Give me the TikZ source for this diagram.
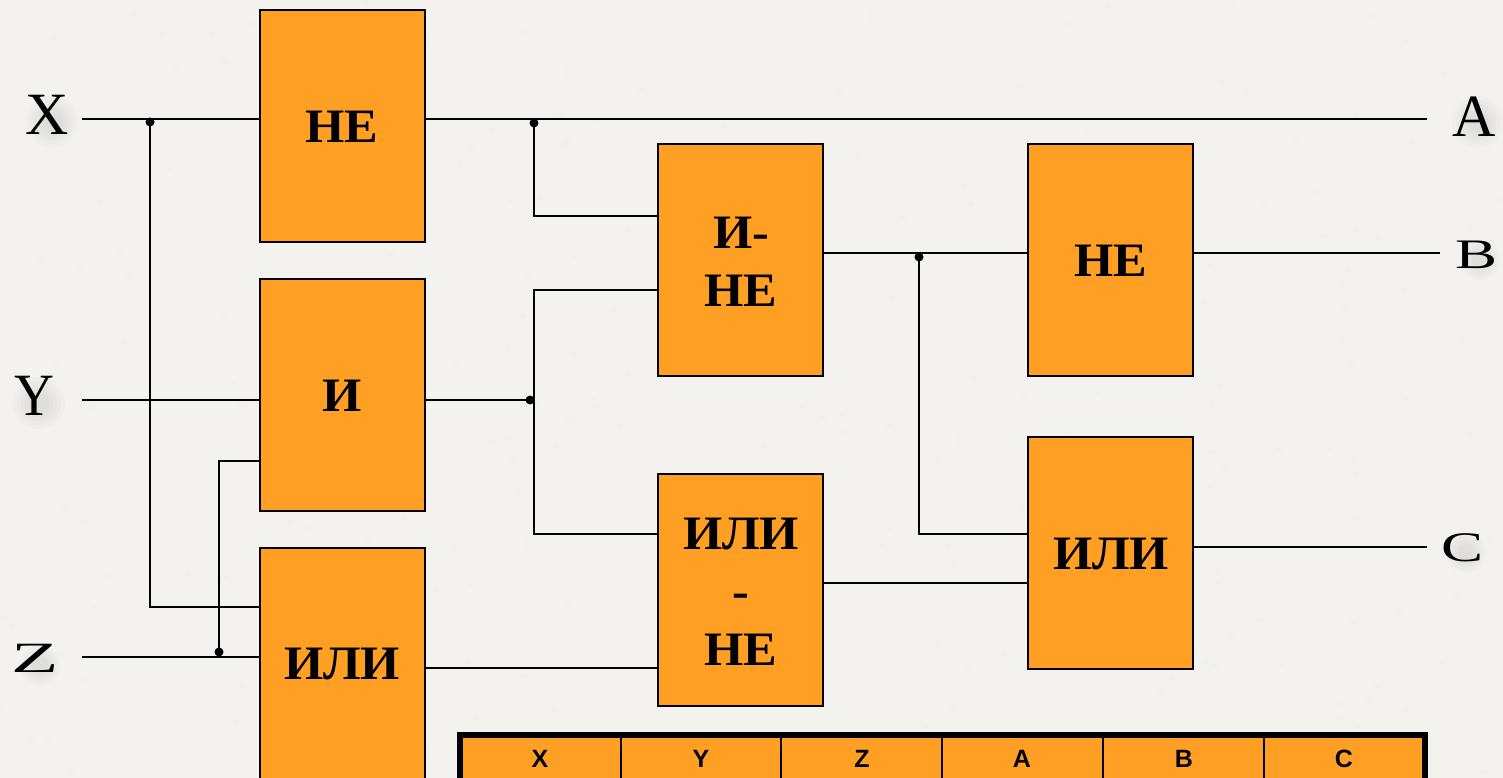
\documentclass[tikz,border=0pt]{standalone}
\usepackage{fontspec}
\setmainfont{Liberation Serif}
\newfontfamily\tabfont{Liberation Sans}
\usetikzlibrary{calc}
\definecolor{pagebg}{HTML}{F3F2EE}
\definecolor{gateor}{HTML}{FF9F24}
\tikzset{
  x=1pt,y=-1pt,
  gate/.style={draw=black,fill=gateor,line width=1.9pt,minimum width=164.8pt,minimum height=232pt,inner sep=0pt,anchor=north west},
  gatetext/.style={font=\bfseries\fontsize{48}{58}\selectfont,align=center,inner sep=0pt,xscale=1.05},
  wire/.style={draw=black,line width=1.8pt,line join=miter},
  joint/.style={circle,fill=black,inner sep=0pt,minimum size=9pt},
  iolabel/.style={font=\fontsize{60}{60}\selectfont,inner sep=0pt},
  cellhead/.style={font=\tabfont\bfseries\fontsize{25}{25}\selectfont,inner sep=0pt},
  blob/.style={fill=black,fill opacity=0.014,draw=none}
}
\newcommand{\softblob}[3]{%
  \foreach \r in {1,0.85,0.7,0.55,0.4}{\path[blob] (#1,#2) ellipse [x radius=#3*\r,y radius=#3*\r];}}
\begin{document}
\begin{tikzpicture}
\useasboundingbox (0,0) rectangle (1503,778);
\fill[pagebg] (0,0) rectangle (1503,778);
\pgfmathsetseed{11}
\foreach \i in {1,...,250}{
  \pgfmathsetmacro{\px}{random(0,1503)}
  \pgfmathsetmacro{\py}{random(0,778)}
  \fill[black,opacity=0.008] (\px,\py) circle (3pt);
}
\softblob{52}{122}{26}\softblob{1478}{122}{26}\softblob{1480}{260}{20}
\softblob{39}{403}{26}\softblob{1466}{553}{20}\softblob{40}{665}{20}

% gates
\node[gate] (ne1)   at (259.4,8.9)    {};
\node[gate] (and1)  at (259.4,277.9)  {};
\node[gate] (or1)   at (259.4,546.9)  {};
\node[gate] (nand)  at (657.4,143)  {};
\node[gate] (nor)   at (657.4,473)  {};
\node[gate] (ne2)   at (1027.4,143) {};
\node[gate] (or2)   at (1027.4,436) {};

\node[gatetext] (tne1)  at (342,127)  {НЕ};
\node[gatetext] (tand1) at (342,396)  {И};
\node[gatetext] (tor1)  at (342,664)  {ИЛИ};
\node[gatetext] (tnand) at (741,262)  {И-\\НЕ};
\node[gatetext] (tnor)  at (741,592)  {ИЛИ\\-\\НЕ};
\node[gatetext] (tne2)  at (1111,261) {НЕ};
\node[gatetext] (tor2)  at (1111,554) {ИЛИ};

% labels
\node[iolabel] (X) at (47,115) {X};
\node[iolabel,xscale=0.92] (Y) at (34,396) {Y};
\node[iolabel,xscale=1.29,yscale=0.72] (Z) at (35,658) {Z};
\node[iolabel] (A) at (1474,117) {A};
\node[iolabel,xscale=1.05,yscale=0.7] (B) at (1476,255) {B};
\node[iolabel,xscale=1.05,yscale=0.7] (C) at (1462,548) {C};

% free ends and junctions
\coordinate (xs) at (82,119);
\coordinate (ys) at (82,400);
\coordinate (zs) at (82,657);
\coordinate (ae) at (1427,119);
\coordinate (be) at (1440,253);
\coordinate (ce) at (1427,547);
\node[joint] (jx) at (150,122) {};
\node[joint] (jz) at (219,652) {};
\node[joint] (ja) at (534,123) {};
\node[joint] (jy) at (530,400) {};
\node[joint] (jb) at (919,257) {};

% wires
\draw[wire] (xs) -- (ne1.west |- xs);
\draw[wire] (jx.center) -- (150,607) -- (or1.west |- 0,607);
\draw[wire] (ne1.east |- ae) -- (ae);
\draw[wire] (ja.center) -- (534,216) -- (nand.west |- 0,216);
\draw[wire] (ys) -- (and1.west |- ys);
\draw[wire] (and1.east |- ys) -- (jy.center);
\draw[wire] (nand.west |- 0,290) -- (534,290) -- (534,534) -- (nor.west |- 0,534);
\draw[wire] (zs) -- (or1.west |- zs);
\draw[wire] (jz.center) -- (219,461) -- (and1.west |- 0,461);
\draw[wire] (or1.east |- 0,668) -- (nor.west |- 0,668);
\draw[wire] (nand.east |- be) -- (ne2.west |- be);
\draw[wire] (jb.center) -- (919,534) -- (or2.west |- 0,534);
\draw[wire] (ne2.east |- be) -- (be);
\draw[wire] (nor.east |- 0,583) -- (or2.west |- 0,583);
\draw[wire] (or2.east |- ce) -- (ce);

% table
\fill[gateor] (460,735) rectangle (1425,790);
\draw[black,line width=1.8pt] (621,735) -- (621,790) (781,735) -- (781,790) (942,735) -- (942,790) (1103,735) -- (1103,790) (1264,735) -- (1264,790);
\draw[black,line width=5.5pt] (460,790) -- (460,735) -- (1425,735) -- (1425,790);
\node[cellhead] (hx) at (540,759) {X};
\node[cellhead] (hy) at (701,759) {Y};
\node[cellhead] (hz) at (862,759) {Z};
\node[cellhead] (ha) at (1022,759) {A};
\node[cellhead] (hb) at (1184,759) {B};
\node[cellhead] (hc) at (1344,759) {C};
\end{tikzpicture}
\end{document}
